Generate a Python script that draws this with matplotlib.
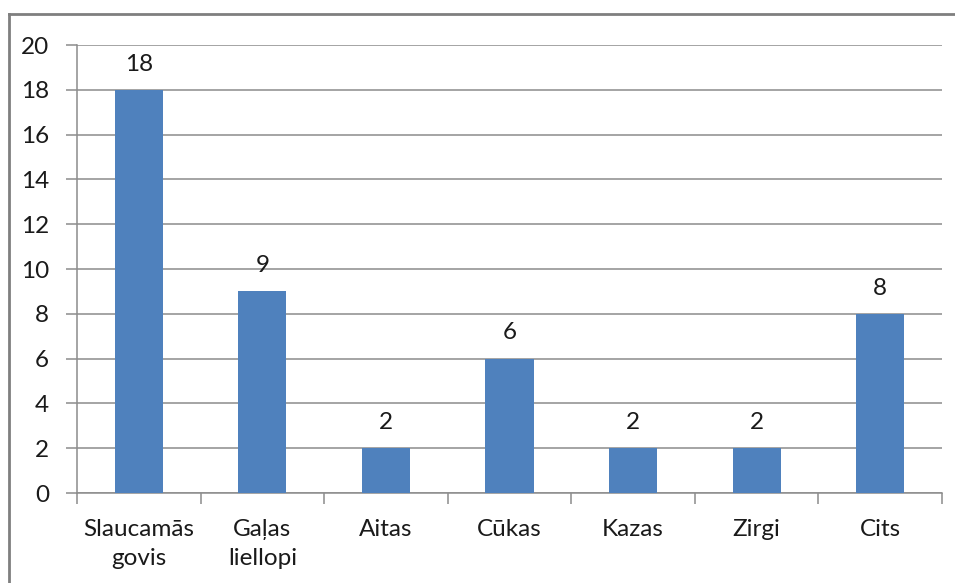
import matplotlib
matplotlib.use("Agg")
import matplotlib.pyplot as plt
from matplotlib.lines import Line2D
import numpy as np

categories = ["Slaucamās\ngovis", "Gaļas\nliellopi", "Aitas", "Cūkas", "Kazas", "Zirgi", "Cits"]
values = [18, 9, 2, 6, 2, 2, 8]
yticks = [0, 2, 4, 6, 8, 10, 12, 14, 16, 18, 20]

plt.rcParams['font.family'] = ['Lato', 'DejaVu Sans']
fs = 17.5

fig = plt.figure(figsize=(9.55, 5.83), dpi=100)
ax = fig.add_axes([77 / 955, 90 / 583, 865 / 955, 448 / 583])

x = np.arange(len(categories))
bars = ax.bar(x, values, width=0.39, color="#4F81BD", zorder=3)
ax.bar_label(bars, labels=[str(v) for v in values], padding=11, fontsize=fs, color="#1a1a1a")

ax.set_xlim(-0.5, len(categories) - 0.5)
ax.set_ylim(0, 20)
ax.set_yticks(yticks)
ax.set_yticklabels([str(t) for t in yticks], fontsize=fs, color="#1a1a1a")
ax.yaxis.grid(True, color="#8c8c8c", linewidth=1.1, zorder=0)

ax.set_xticks(x)
ax.set_xticklabels(categories, fontsize=fs, color="#1a1a1a", linespacing=1.45)
ax.set_xticks(np.arange(-0.5, len(categories)), minor=True)
ax.tick_params(axis="x", which="major", length=0, pad=19)
ax.tick_params(axis="x", which="minor", length=8, color="#8c8c8c", width=1.1, direction="out")
ax.tick_params(axis="y", length=8, color="#8c8c8c", width=1.1, pad=12)

for s in ["top", "right"]:
    ax.spines[s].set_visible(False)
for s in ["left", "bottom"]:
    ax.spines[s].set_color("#8c8c8c")
    ax.spines[s].set_linewidth(1.1)

# frame of the chart area (top and left edges visible)
fig.add_artist(Line2D([9 / 955, 1.0], [1 - 14 / 583, 1 - 14 / 583], transform=fig.transFigure, color="#7f7f7f", linewidth=2))
fig.add_artist(Line2D([9 / 955, 9 / 955], [0, 1 - 14 / 583], transform=fig.transFigure, color="#7f7f7f", linewidth=2))

fig.savefig("out.png", dpi=100)
